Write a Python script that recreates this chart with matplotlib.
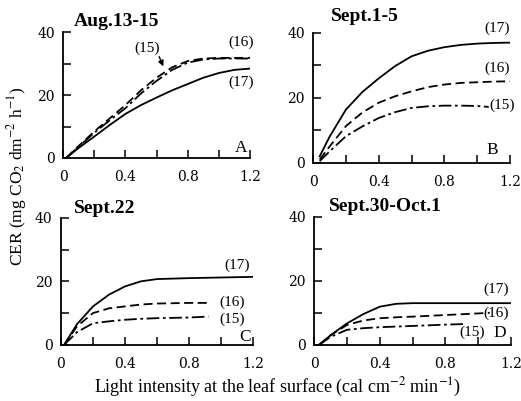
import matplotlib
matplotlib.use("Agg")
import matplotlib.pyplot as plt
from matplotlib.ticker import MultipleLocator

plt.rcParams["font.family"] = ["Liberation Serif", "DejaVu Serif"]
plt.rcParams["mathtext.fontset"] = "stix"

# --- data (x: light intensity, y: CER) ---
x_a = [0.02, 0.1, 0.2, 0.3, 0.4, 0.5, 0.6, 0.7, 0.8, 0.9, 1.0, 1.1, 1.2]
a17 = [0, 3.2, 6.8, 10.5, 14.0, 16.8, 19.2, 21.5, 23.5, 25.5, 27.0, 28.0, 28.4]
a16 = [0, 3.8, 8.4, 12.6, 16.8, 21.5, 25.5, 28.8, 30.8, 31.6, 31.8, 31.8, 31.8]
a15 = [0, 3.6, 8.0, 12.0, 15.8, 20.5, 24.5, 28.0, 30.3, 31.3, 31.6, 31.6, 31.6]

x_b = [0.04, 0.1, 0.2, 0.3, 0.4, 0.5, 0.6, 0.7, 0.8, 0.9, 1.0, 1.1, 1.2]
b17 = [2, 8, 16.4, 21.8, 26, 29.8, 32.8, 34.5, 35.6, 36.3, 36.7, 36.9, 37]
b16 = [1, 5, 11.3, 15.5, 18.5, 20.5, 22, 23.3, 24.1, 24.6, 24.8, 25, 25.1]
x_b15 = [0.04, 0.1, 0.2, 0.3, 0.4, 0.5, 0.6, 0.7, 0.8, 0.9, 1.0, 1.07]
b15 = [0.5, 3.5, 8.2, 11.2, 13.8, 15.6, 16.9, 17.4, 17.6, 17.6, 17.5, 17.2]

x_c = [0.02, 0.1, 0.2, 0.3, 0.4, 0.5, 0.6, 0.8, 1.0, 1.2]
c17 = [0, 6.5, 12.1, 15.8, 18.4, 20.0, 20.7, 21.0, 21.2, 21.4]
x_c16 = [0.02, 0.1, 0.2, 0.3, 0.4, 0.5, 0.6, 0.8, 0.93]
c16 = [0, 5.8, 10.0, 11.5, 12.1, 12.7, 13.0, 13.2, 13.2]
x_c15 = [0.02, 0.1, 0.2, 0.3, 0.4, 0.5, 0.6, 0.8, 0.92]
c15 = [0, 4.0, 6.8, 7.4, 7.9, 8.2, 8.4, 8.6, 8.9]

x_d = [0.03, 0.1, 0.2, 0.3, 0.4, 0.5, 0.6, 0.8, 1.0, 1.2]
d17 = [0, 3.0, 6.7, 9.6, 11.9, 12.8, 13, 13, 13, 13]
x_d16 = [0.03, 0.1, 0.2, 0.3, 0.4, 0.5, 0.6, 0.8, 1.0, 1.07]
d16 = [0, 3.0, 6.2, 7.6, 8.3, 8.6, 8.8, 9.3, 9.8, 10.0]
x_d15 = [0.03, 0.1, 0.2, 0.3, 0.4, 0.5, 0.6, 0.8, 0.92]
d15 = [0, 2.5, 4.7, 5.2, 5.5, 5.7, 5.9, 6.3, 6.5]

panels = [
    ("Aug.13-15", "A", [0.121, 0.606, 0.359, 0.314],
     [(x_a, a17), (x_a, a16), (x_a, a15)]),
    ("Sept.1-5", "B", [0.601, 0.594, 0.378, 0.324],
     [(x_b, b17), (x_b, b16), (x_b15, b15)]),
    ("Sept.22", "C", [0.117, 0.140, 0.369, 0.317],
     [(x_c, c17), (x_c16, c16), (x_c15, c15)]),
    ("Sept.30-Oct.1", "D", [0.603, 0.140, 0.378, 0.320],
     [(x_d, d17), (x_d16, d16), (x_d15, d15)]),
]
styles = ["-", (0, (5, 2.5)), (0, (7, 2, 1.5, 2))]

# label positions (data coords): (17), (16), (15), panel letter, title
label_pos = {
    "A": [(1.14, 24), (1.14, 36.8), (0.54, 35), (1.14, 3.2), (0.07, 43.5)],
    "B": [(1.12, 41.5), (1.12, 29.2), (1.15, 17.8), (1.09, 4), (0.11, 45)],
    "C": [(1.1, 25), (1.07, 13.5), (1.07, 7.9), (1.15, 2.5), (0.08, 43)],
    "D": [(1.11, 17.2), (1.11, 10), (0.96, 4), (1.13, 3.7), (0.09, 43)],
}

fig = plt.figure(figsize=(5.21, 4.01), dpi=100)
for title, letter, rect, series in panels:
    ax = fig.add_axes(rect)
    for (xs, ys), ls in zip(series, styles):
        ax.plot(xs, ys, color="black", linestyle=ls, linewidth=1.3)
    ax.set_xlim(0, 1.2)
    ax.set_ylim(0, 40)
    ax.spines["top"].set_visible(False)
    ax.spines["right"].set_visible(False)
    for s in ("left", "bottom"):
        ax.spines[s].set_linewidth(1.3)
    ax.xaxis.set_major_locator(MultipleLocator(0.4))
    ax.xaxis.set_minor_locator(MultipleLocator(0.2))
    ax.yaxis.set_major_locator(MultipleLocator(20))
    ax.yaxis.set_minor_locator(MultipleLocator(10))
    ax.xaxis.set_major_formatter(lambda v, p: "0" if v == 0 else f"{v:.1f}")
    ax.tick_params(which="both", direction="in", length=6, width=1.1)
    ax.tick_params(axis="x", pad=9)
    ax.tick_params(axis="y", pad=6)
    for lab in ax.get_xticklabels() + ax.get_yticklabels():
        lab.set_fontfamily("DejaVu Serif")
        lab.set_fontsize(10)
    pos = label_pos[letter]
    for txt, (lx, ly) in zip(["(17)", "(16)", "(15)"], pos[:3]):
        ax.text(lx, ly, txt, ha="center", va="center", fontsize=11,
                clip_on=False)
    ax.text(*pos[3], letter, ha="center", va="center", fontsize=12.5,
            clip_on=False)
    ax.text(*pos[4], title, ha="left", va="center", fontsize=14,
            fontweight="bold", clip_on=False)
    if letter == "A":
        ax.annotate("", xy=(0.65, 28.3), xytext=(0.61, 33),
                    arrowprops=dict(arrowstyle="-|>", color="black",
                                    lw=1.0, mutation_scale=8))

fig.text(0.033, 0.56, r"CER (mg CO$_2$ dm$^{-2}$ h$^{-1}$)", rotation=90,
         ha="center", va="center", fontsize=12.5)
fig.text(0.532, 0.033,
         r"Light intensity at the leaf surface (cal cm$^{-2}$ min$^{-1}$)",
         ha="center", va="center", fontsize=13)

fig.savefig("out.png", dpi=100)
